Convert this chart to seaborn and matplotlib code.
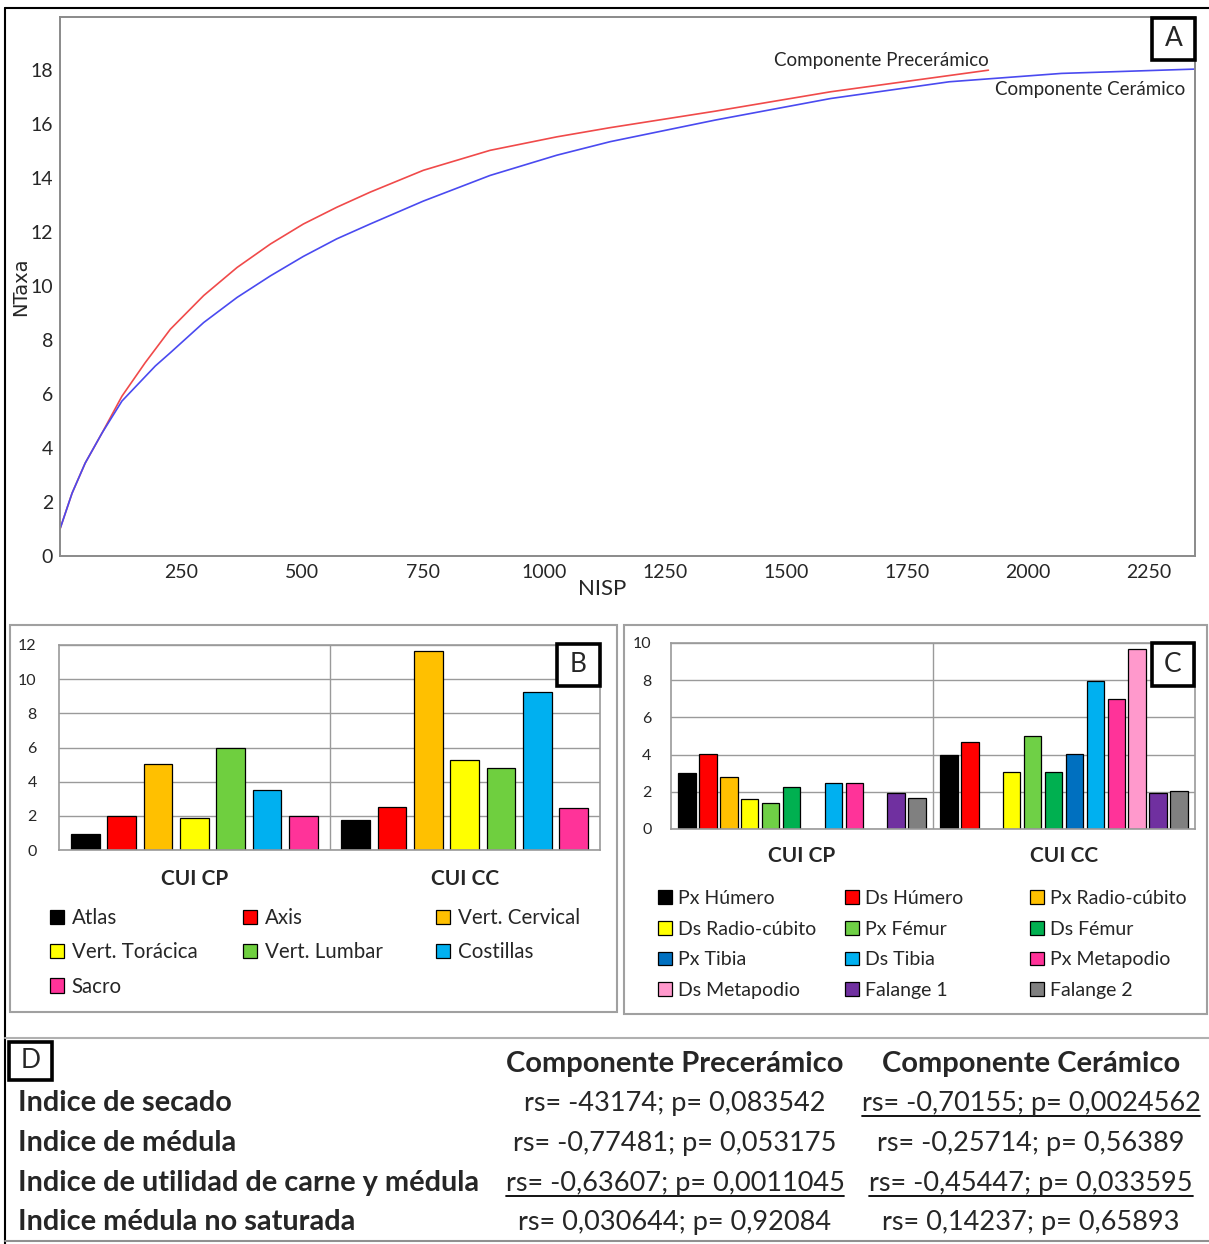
import numpy as np
import pandas as pd
import matplotlib
matplotlib.use('Agg')
import matplotlib.pyplot as plt
import seaborn as sns
from matplotlib.patches import Patch, Rectangle
from matplotlib.lines import Line2D

sns.set_theme(style='white')
plt.rcParams['font.family'] = ['Lato', 'DejaVu Sans']

# A: curvas de rarefacción (NISP vs NTaxa)
componentes = ['Componente Precerámico', 'Componente Cerámico']
nisp_pre = [0, 25, 52, 87, 128, 176, 228, 297, 366, 435, 503, 572, 641, 751, 889, 1027, 1137, 1354, 1593, 1919]
ntaxa_pre = [1.0, 2.33, 3.44, 4.56, 5.92, 7.16, 8.40, 9.65, 10.69, 11.56, 12.30, 12.92, 13.48, 14.29, 15.03, 15.53, 15.87, 16.48, 17.2, 18.0]
nisp_cer = [0, 25, 52, 87, 128, 197, 228, 297, 366, 435, 503, 572, 641, 751, 889, 1027, 1137, 1354, 1593, 1838, 2070, 2346]
ntaxa_cer = [1.0, 2.33, 3.44, 4.56, 5.74, 7.04, 7.53, 8.65, 9.58, 10.38, 11.10, 11.75, 12.30, 13.15, 14.1, 14.85, 15.35, 16.15, 16.95, 17.57, 17.88, 18.04]
colores_curva = ['#f04a4a', '#4a4af0']
xticks_a = [250, 500, 750, 1000, 1250, 1500, 1750, 2000, 2250]
yticks_a = [0, 2, 4, 6, 8, 10, 12, 14, 16, 18]

# B: CUI de vértebras y costillas
grupos = ['CUI CP', 'CUI CC']
elementos_b = ['Atlas', 'Axis', 'Vert. Cervical', 'Vert. Torácica', 'Vert. Lumbar', 'Costillas', 'Sacro']
cui_cp_b = [0.95, 2.0, 5.03, 1.9, 5.96, 3.5, 1.97]
cui_cc_b = [1.73, 2.5, 11.65, 5.28, 4.78, 9.25, 2.48]
colores_b = ['#000000', '#ff0000', '#ffc000', '#ffff00', '#6fcf3f', '#00b0f0', '#ff3399']

# C: CUI de huesos largos
elementos_c = ['Px Húmero', 'Ds Húmero', 'Px Radio-cúbito', 'Ds Radio-cúbito', 'Px Fémur', 'Ds Fémur',
               'Px Tibia', 'Ds Tibia', 'Px Metapodio', 'Ds Metapodio', 'Falange 1', 'Falange 2']
cui_cp_c = [3.0, 4.03, 2.78, 1.61, 1.4, 2.26, np.nan, 2.47, 2.47, np.nan, 1.95, 1.67]
cui_cc_c = [4.0, 4.68, np.nan, 3.05, 5.0, 3.05, 4.03, 7.97, 6.99, 9.68, 1.95, 2.04]
colores_c = ['#000000', '#ff0000', '#ffc000', '#ffff00', '#6fd046', '#00b050',
             '#0070c0', '#00b0f0', '#ff3399', '#ff99cc', '#7030a0', '#808080']

# D: correlaciones
indices = ['Indice de secado', 'Indice de médula', 'Indice de utilidad de carne y médula', 'Indice médula no saturada']
rs_pre = ['rs= -43174; p= 0,083542', 'rs= -0,77481; p= 0,053175', 'rs= -0,63607; p= 0,0011045', 'rs= 0,030644; p= 0,92084']
rs_cer = ['rs= -0,70155; p= 0,0024562', 'rs= -0,25714; p= 0,56389', 'rs= -0,45447; p= 0,033595', 'rs= 0,14237; p= 0,65893']
subrayado_pre = [False, False, True, False]
subrayado_cer = [True, False, True, False]

W, H = 1209, 1244
GRIS = '#9a9a9a'


def fx(x):
    return x / W


def fy(y):
    return 1 - y / H


def caja(x0, y0, x1, y1):
    return [fx(x0), fy(y1), (x1 - x0) / W, (y1 - y0) / H]


fig = plt.figure(figsize=(W / 100, H / 100), dpi=100)


def marco(x0, y0, x1, y1, color, lw):
    fig.add_artist(Rectangle((fx(x0), fy(y1)), (x1 - x0) / W, (y1 - y0) / H,
                             transform=fig.transFigure, fill=False, edgecolor=color, linewidth=lw))


def etiqueta_panel(x0, y0, x1, y1, letra):
    fig.add_artist(Rectangle((fx(x0), fy(y1)), (x1 - x0) / W, (y1 - y0) / H,
                             transform=fig.transFigure, facecolor='white', edgecolor='black',
                             linewidth=2.6, zorder=5))
    fig.text(fx((x0 + x1) / 2), fy((y0 + y1) / 2), letra, ha='center', va='center',
             fontsize=19, zorder=6)


def linea(xs, ys, color, lw):
    fig.add_artist(Line2D([fx(x) for x in xs], [fy(y) for y in ys], transform=fig.transFigure,
                          color=color, linewidth=lw))


# marcos generales
linea([5, 1209], [8, 8], 'black', 1.5)
linea([5, 5], [8, 1244], 'black', 1.5)
marco(10, 625, 617, 1012, '#a0a0a0', 1.5)
marco(624, 625, 1207, 1014, '#a0a0a0', 1.5)
linea([5, 1209], [1038, 1038], '#b0b0b0', 1.5)
linea([5, 1209], [1241, 1241], '#909090', 1.5)

# ---------- A ----------
ax_a = fig.add_axes(caja(60, 17, 1195, 556))
curvas = pd.concat([
    pd.DataFrame({'NISP': nisp_pre, 'NTaxa': ntaxa_pre, 'componente': componentes[0]}),
    pd.DataFrame({'NISP': nisp_cer, 'NTaxa': ntaxa_cer, 'componente': componentes[1]}),
])
sns.lineplot(data=curvas, x='NISP', y='NTaxa', hue='componente', hue_order=componentes,
             palette=colores_curva, estimator=None, linewidth=1.2, legend=False, ax=ax_a)
ax_a.set_xlim(0, 2346)
ax_a.set_ylim(0, 19.97)
ax_a.set_xticks(xticks_a)
ax_a.set_yticks(yticks_a)
ax_a.tick_params(axis='both', direction='out', length=3, width=1, color='#808080', labelsize=14, pad=3)
ax_a.tick_params(axis='y', pad=2)
for s in ax_a.spines.values():
    s.set_color('#8a8a8a')
    s.set_linewidth(1.4)
ax_a.set_xlabel('NISP', fontsize=16)
ax_a.xaxis.set_label_coords(0.4775, -0.043)
ax_a.set_ylabel('NTaxa', fontsize=14, family='DejaVu Sans')
ax_a.yaxis.set_label_coords(-0.0265, 0.5)
ax_a.text(0.724, 0.92, componentes[0], transform=ax_a.transAxes, ha='center', va='center', fontsize=13.5)
ax_a.text(0.9075, 0.8646, componentes[1], transform=ax_a.transAxes, ha='center', va='center', fontsize=13.5)
etiqueta_panel(1152, 18, 1195, 60, 'A')


# ---------- B y C ----------
def tabla_barras(valores_cp, valores_cc, elementos):
    return pd.DataFrame({
        'grupo': np.repeat(grupos, len(elementos)),
        'elemento': list(elementos) * 2,
        'valor': list(valores_cp) + list(valores_cc),
    })


def estilo_barras(ax, ymax, pad_x, pad_y):
    ax.set_xlim(-0.5, 1.5)
    ax.set_ylim(0, ymax)
    ax.set_yticks(np.arange(0, ymax + 1, 2))
    ax.grid(axis='y', color=GRIS, linewidth=1)
    ax.set_axisbelow(True)
    ax.axvline(0.5, color=GRIS, linewidth=1, zorder=0)
    for s in ax.spines.values():
        s.set_color(GRIS)
        s.set_linewidth(1.2)
    ax.set_xlabel('')
    ax.set_ylabel('')
    ax.tick_params(axis='x', length=0, pad=pad_x, labelsize=15)
    ax.tick_params(axis='y', length=0, pad=pad_y, labelsize=11.5)
    for lab in ax.get_xticklabels():
        lab.set_fontweight('bold')


def leyenda(etiquetas, colores, x_cols, y_top, fs, espacio):
    ncol = len(x_cols)
    for c, x0 in enumerate(x_cols):
        idx = list(range(c, len(etiquetas), ncol))
        handles = [Patch(facecolor=colores[i], edgecolor='black', linewidth=0.9) for i in idx]
        fig.legend(handles, [etiquetas[i] for i in idx], loc='upper left',
                   bbox_to_anchor=(fx(x0), fy(y_top)), frameon=False, fontsize=fs,
                   handlelength=0.7, handleheight=0.7, handletextpad=0.35,
                   labelspacing=espacio, borderpad=0, borderaxespad=0)


ax_b = fig.add_axes(caja(59, 645, 600, 850))
sns.barplot(data=tabla_barras(cui_cp_b, cui_cc_b, elementos_b), x='grupo', y='valor',
            hue='elemento', hue_order=elementos_b, palette=colores_b, saturation=1,
            width=0.94, gap=0.21, edgecolor='black', linewidth=0.9, errorbar=None,
            legend=False, ax=ax_b)
estilo_barras(ax_b, 12, 14, 16)
leyenda(elementos_b, colores_b, [50, 243, 436], 908, 14.8, 0.7)
etiqueta_panel(557, 644, 600, 686, 'B')

ax_c = fig.add_axes(caja(671, 643, 1195, 829))
sns.barplot(data=tabla_barras(cui_cp_c, cui_cc_c, elementos_c), x='grupo', y='valor',
            hue='elemento', hue_order=elementos_c, palette=colores_c, saturation=1,
            width=0.957, gap=0.17, edgecolor='black', linewidth=0.9, errorbar=None,
            legend=False, ax=ax_c)
estilo_barras(ax_c, 10, 12, 14)
leyenda(elementos_c, colores_c, [658, 845, 1030], 890, 14, 0.7)
etiqueta_panel(1152, 643, 1194, 686, 'C')

# ---------- D ----------
etiqueta_panel(9, 1042, 52, 1080, 'D')
fig.text(fx(675), fy(1072), componentes[0], ha='center', va='baseline', fontsize=21, fontweight='bold')
fig.text(fx(1031), fy(1072), componentes[1], ha='center', va='baseline', fontsize=21, fontweight='bold')
subrayar = []
for i, base in enumerate([1111, 1151, 1191, 1230]):
    fig.text(fx(18), fy(base), indices[i], ha='left', va='baseline', fontsize=20.8, fontweight='bold')
    t1 = fig.text(fx(675), fy(base), rs_pre[i], ha='center', va='baseline', fontsize=19.5)
    t2 = fig.text(fx(1031), fy(base), rs_cer[i], ha='center', va='baseline', fontsize=19.5)
    if subrayado_pre[i]:
        subrayar.append((t1, base))
    if subrayado_cer[i]:
        subrayar.append((t2, base))

fig.canvas.draw()
renderer = fig.canvas.get_renderer()
for t, base in subrayar:
    bb = t.get_window_extent(renderer).transformed(fig.transFigure.inverted())
    fig.add_artist(Line2D([bb.x0, bb.x1], [fy(base + 5), fy(base + 5)], transform=fig.transFigure,
                          color='black', linewidth=1.3))

fig.savefig('out.png', dpi=100)
